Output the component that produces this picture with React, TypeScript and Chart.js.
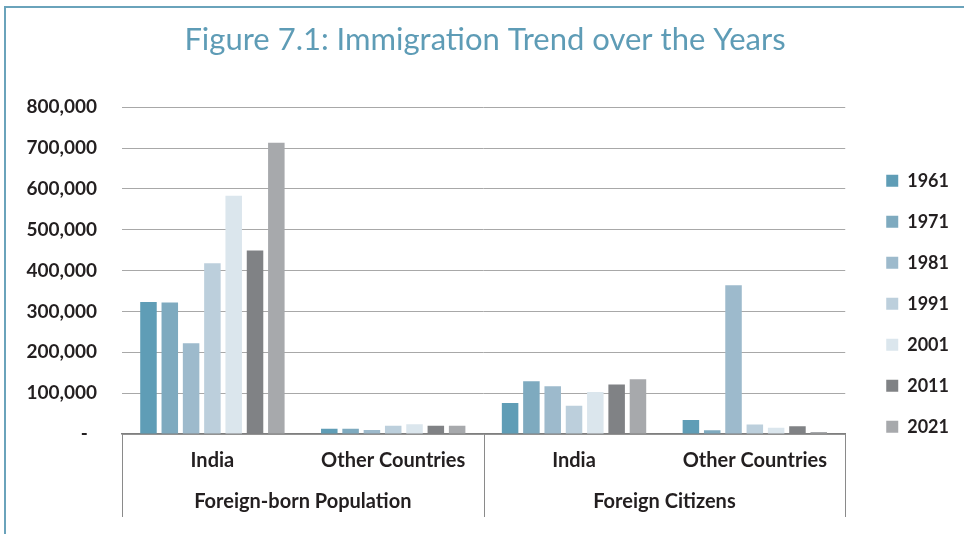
import React, { useEffect, useRef } from "react";
import { Chart, registerables } from "chart.js";

Chart.register(...registerables);

const chartTitle = "Figure 7.1: Immigration Trend over the Years";
const years = ["1961", "1971", "1981", "1991", "2001", "2011", "2021"];
const categories = ["India", "Other Countries", "India", "Other Countries"];
const groups = ["Foreign-born Population", "Foreign Citizens"];
const groupSizes = [2, 2];

const v1961 = [323000, 13000, 76000, 34000];
const v1971 = [322000, 13000, 129000, 9000];
const v1981 = [222000, 10000, 117000, 364000];
const v1991 = [418000, 20000, 69000, 23000];
const v2001 = [583000, 24000, 103000, 15000];
const v2011 = [449000, 20000, 121000, 19000];
const v2021 = [713000, 20000, 134000, 5000];

const yMax = 800000;
const yStep = 100000;

const seriesValues = [v1961, v1971, v1981, v1991, v2001, v2011, v2021];
const seriesColors = ["#5f9db6", "#7eaabf", "#9dbacc", "#bccfdc", "#dbe6ed", "#808285", "#a7a9ac"];

const FONT = "Lato, 'Open Sans', sans-serif";
const TEXT = "#231f20";

const groupPlugin = {
  id: "groupLabels",
  afterDraw(chart: any) {
    const { ctx, chartArea, scales } = chart;
    const x = scales.x;
    const half = (x.getPixelForValue(1) - x.getPixelForValue(0)) / 2;
    const top = chartArea.bottom;
    const bottom = top + 83;
    ctx.save();
    ctx.strokeStyle = "#8a8a8a";
    ctx.lineWidth = 1;
    let idx = 0;
    const bounds: number[] = [x.getPixelForValue(0) - half];
    groupSizes.forEach((n) => {
      idx += n;
      bounds.push(x.getPixelForValue(idx - 1) + half);
    });
    bounds.forEach((bx) => {
      const px = Math.round(bx) + 0.5;
      ctx.beginPath();
      ctx.moveTo(px, top);
      ctx.lineTo(px, bottom);
      ctx.stroke();
    });
    ctx.fillStyle = TEXT;
    ctx.font = `bold 20px ${FONT}`;
    ctx.textAlign = "center";
    ctx.textBaseline = "middle";
    groups.forEach((g, i) => {
      const cx = (bounds[i] + bounds[i + 1]) / 2;
      ctx.fillText(g, cx, top + 68);
    });
    ctx.restore();
  },
};

export default function App() {
  const ref = useRef<HTMLCanvasElement | null>(null);

  useEffect(() => {
    if (!ref.current) return;
    const chart = new Chart(ref.current, {
      type: "bar",
      data: {
        labels: categories,
        datasets: years.map((y, i) => ({
          label: y,
          data: seriesValues[i],
          backgroundColor: seriesColors[i],
          borderWidth: 0,
          categoryPercentage: 0.825,
          barPercentage: 0.775,
        })),
      },
      options: {
        responsive: false,
        animation: false,
        layout: { padding: { left: 11, right: 5, top: 0, bottom: 17 } },
        plugins: {
          title: {
            display: true,
            text: chartTitle,
            color: "#5e9cb6",
            font: { family: FONT, size: 31, weight: "normal" },
            padding: { top: 21, bottom: 49 },
          },
          legend: {
            position: "right",
            title: {
              display: true,
              text: " ",
              font: { family: FONT, size: 12 },
              padding: { top: 76, bottom: 0 },
            },
            labels: {
              boxWidth: 12,
              boxHeight: 12,
              padding: 23,
              color: TEXT,
              font: { family: FONT, size: 18, weight: "bold" },
            },
          },
          tooltip: { enabled: false },
        },
        scales: {
          x: {
            grid: { display: false, drawTicks: false },
            border: { display: true, color: "#7f7f7f", width: 1.5 },
            ticks: {
              color: TEXT,
              font: { family: FONT, size: 20, weight: "bold" },
              padding: 15,
              maxRotation: 0,
              autoSkip: false,
            },
            afterFit(s: any) {
              s.height = 83;
            },
          },
          y: {
            min: 0,
            max: yMax,
            grid: { color: "#a8a8a8", lineWidth: 1, drawTicks: false },
            border: { display: false },
            ticks: {
              stepSize: yStep,
              padding: 25,
              color: TEXT,
              font: { family: FONT, size: 19, weight: "bold" },
              callback: (v: any) => (Number(v) === 0 ? "-  " : Number(v).toLocaleString("en-US")),
            },
            afterFit(s: any) {
              s.width = 111;
            },
          },
          yR: {
            position: "right",
            display: true,
            grid: { display: false, drawTicks: false },
            border: { display: false },
            ticks: { display: false },
            afterFit(s: any) {
              s.width = 18;
            },
          },
        },
      },
      plugins: [groupPlugin],
    });
    return () => chart.destroy();
  }, []);

  return (
    <div style={{ position: "fixed", left: 0, top: 0, width: 964, height: 534, background: "#fff", overflow: "hidden" }}>
      <div style={{ position: "absolute", left: 4, top: 6, width: 960, height: 2, background: "#6aa3bb" }} />
      <div style={{ position: "absolute", left: 4, top: 6, width: 2, height: 528, background: "#6aa3bb" }} />
      <canvas ref={ref} width={964} height={534} style={{ position: "absolute", left: 0, top: 0 }} />
    </div>
  );
}
